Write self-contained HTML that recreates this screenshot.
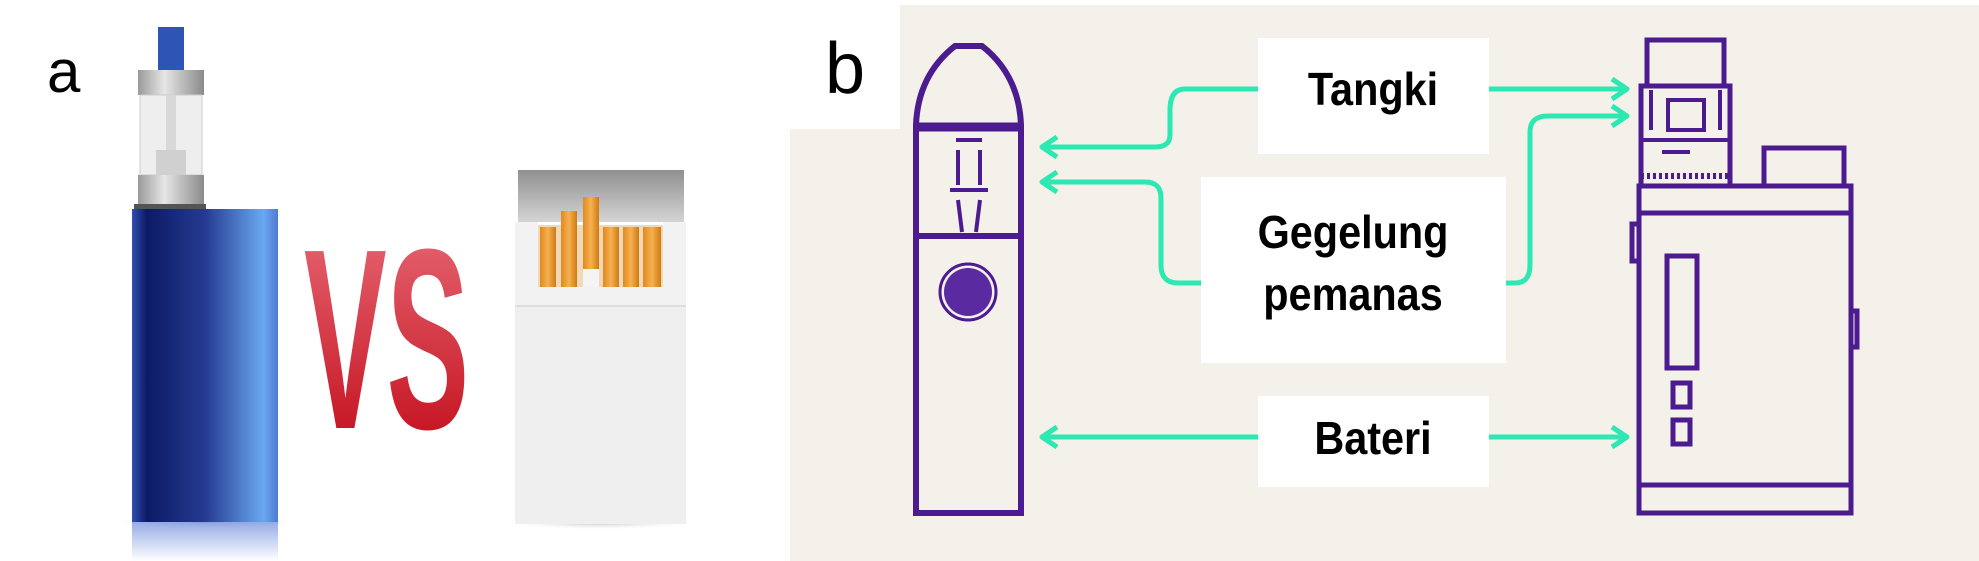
<!DOCTYPE html>
<html><head><meta charset="utf-8"><style>
html,body{margin:0;padding:0;background:#fff;}
svg{display:block}
text{font-family:"Liberation Sans",sans-serif}
</style></head><body>
<svg width="1979" height="561" viewBox="0 0 1979 561" xmlns="http://www.w3.org/2000/svg">
<defs>
<linearGradient id="blue" x1="0" x2="1"><stop offset="0" stop-color="#3050b0"/><stop offset="0.1" stop-color="#0c1a66"/><stop offset="0.5" stop-color="#253a90"/><stop offset="0.9" stop-color="#6aa8f0"/><stop offset="1" stop-color="#4e7ad0"/></linearGradient>
<linearGradient id="refl" x1="0" y1="0" x2="0" y2="1"><stop offset="0" stop-color="#7c98e0"/><stop offset="1" stop-color="#ffffff"/></linearGradient>
<linearGradient id="metal" x1="0" x2="1"><stop offset="0" stop-color="#9a9a9a"/><stop offset="0.4" stop-color="#e6e6e6"/><stop offset="1" stop-color="#8a8a8a"/></linearGradient>
<linearGradient id="red" x1="0" y1="0" x2="0" y2="1"><stop offset="0" stop-color="#e9707c"/><stop offset="1" stop-color="#c00412"/></linearGradient>
<linearGradient id="flap" x1="0" y1="0" x2="0" y2="1"><stop offset="0" stop-color="#909090"/><stop offset="1" stop-color="#d4d4d4"/></linearGradient>
<linearGradient id="cig" x1="0" x2="1"><stop offset="0" stop-color="#e08a20"/><stop offset="0.5" stop-color="#f6b050"/><stop offset="1" stop-color="#d07a10"/></linearGradient>
<radialGradient id="shad"><stop offset="0" stop-color="#888" stop-opacity="0.6"/><stop offset="1" stop-color="#fff" stop-opacity="0"/></radialGradient>
</defs>
<!-- panel a -->
<text x="47" y="92" font-size="60">a</text>
<ellipse cx="205" cy="522" rx="95" ry="8" fill="url(#shad)"/>
<rect x="158" y="27" width="26" height="43" fill="#2d55b5"/>
<rect x="138" y="70" width="66" height="25" fill="url(#metal)"/>
<rect x="140" y="95" width="62" height="80" fill="#eeeeee" stroke="#ccc"/>
<rect x="166" y="95" width="10" height="60" fill="#d8d8d8"/>
<rect x="156" y="150" width="30" height="25" fill="#d0d0d0"/>
<rect x="138" y="175" width="66" height="29" fill="url(#metal)"/>
<rect x="134" y="204" width="72" height="6" fill="#555"/>
<rect x="132" y="209" width="146" height="313" fill="url(#blue)"/>
<rect x="132" y="522" width="146" height="39" fill="url(#refl)" opacity="0.8"/>
<text x="0" y="0" font-size="238" font-weight="bold" fill="url(#red)" transform="translate(304,428) scale(0.52,1.08)">VS</text>
<ellipse cx="600" cy="522" rx="100" ry="8" fill="url(#shad)"/>
<rect x="518" y="170" width="166" height="52" fill="url(#flap)"/>
<rect x="538" y="225" width="125" height="62" fill="#f0d8b8"/>
<rect x="540" y="227" width="16" height="60" fill="url(#cig)"/>
<rect x="561" y="211" width="16" height="76" fill="url(#cig)"/>
<rect x="583" y="197" width="16" height="72" fill="url(#cig)"/>
<rect x="583" y="269" width="16" height="18" fill="#f4f4f4"/>
<rect x="603" y="227" width="16" height="60" fill="url(#cig)"/>
<rect x="623" y="227" width="16" height="60" fill="url(#cig)"/>
<rect x="643" y="227" width="18" height="60" fill="url(#cig)"/>
<path d="M515 222 L538 222 L538 287 L663 287 L663 222 L686 222 L686 306 L515 306 Z" fill="#f2f2f2"/>
<rect x="515" y="306" width="171" height="218" fill="#efefef"/>
<line x1="515" y1="306" x2="686" y2="306" stroke="#ccc"/>
<!-- panel b bg -->
<path d="M900 5 H1979 V561 H790 V129 H900 Z" fill="#f3f1ea"/>
<text x="825" y="93" font-size="72">b</text>
<!-- boxes -->
<rect x="1258" y="38" width="231" height="116" fill="#fff"/>
<rect x="1201" y="177" width="305" height="186" fill="#fff"/>
<rect x="1258" y="396" width="231" height="91" fill="#fff"/>
<g font-weight="bold" font-size="46" text-anchor="middle" fill="#000">
<text transform="translate(1373,105) scale(0.9,1)">Tangki</text>
<text transform="translate(1353,248) scale(0.9,1)">Gegelung</text>
<text transform="translate(1353,310) scale(0.9,1)">pemanas</text>
<text transform="translate(1373,454) scale(0.9,1)">Bateri</text>
</g>
<!-- arrows -->
<g fill="none" stroke="#2ee8b2" stroke-width="5" stroke-linejoin="round">
<path d="M1489 89 H1625"/><path d="M1612 79 L1627 89 L1612 99"/>
<path d="M1258 89 H1185 Q1170 89 1170 110 V135 Q1170 147 1155 147 H1044"/><path d="M1057 137 L1042 147 L1057 157"/>
<path d="M1201 283 H1178 Q1161 283 1161 265 V198 Q1161 182 1145 182 H1044"/><path d="M1057 172 L1042 182 L1057 192"/>
<path d="M1506 283 H1515 Q1530 283 1530 265 V132 Q1530 116 1548 116 H1625"/><path d="M1612 106 L1627 116 L1612 126"/>
<path d="M1258 437 H1044"/><path d="M1057 427 L1042 437 L1057 447"/>
<path d="M1489 437 H1625"/><path d="M1612 427 L1627 437 L1612 447"/>
</g>
<!-- left pen -->
<g fill="none" stroke="#4b1b8f" stroke-width="6">
<path d="M916 513 V125 Q918 75 955 46 L982 46 Q1019 75 1021 125 V513 Z"/>
<line x1="916" y1="127" x2="1021" y2="127" stroke-width="9"/>
<line x1="916" y1="236" x2="1021" y2="236"/>
<path d="M956 140 H982 M958 150 V185 M980 150 V185 M950 190 H988 M958 200 L962 232 M980 200 L976 232" stroke-width="4"/>
<circle cx="968" cy="292" r="28" stroke-width="3"/>
</g>
<circle cx="968" cy="292" r="24" fill="#5a2aa0"/>
<!-- right mod -->
<g fill="none" stroke="#4b1b8f" stroke-width="5">
<rect x="1647" y="40" width="77" height="46"/>
<rect x="1641" y="86" width="89" height="100"/>
<path d="M1651 90 V130 M1720 90 V130 M1668 100 H1704 V130 H1668 Z M1662 152 H1690" stroke-width="4"/>
<line x1="1641" y1="140" x2="1730" y2="140" stroke-width="4"/>
<line x1="1641" y1="176" x2="1730" y2="176" stroke-width="6" stroke-dasharray="3 3"/>
<rect x="1764" y="148" width="80" height="38"/>
<path d="M1639 513 V186 H1851 V513 Z"/>
<line x1="1639" y1="213" x2="1851" y2="213"/>
<line x1="1639" y1="485" x2="1851" y2="485"/>
<rect x="1632" y="224" width="7" height="37"/>
<rect x="1851" y="311" width="6" height="36"/>
<rect x="1667" y="256" width="30" height="112"/>
<rect x="1673" y="383" width="17" height="24"/>
<rect x="1673" y="420" width="17" height="24"/>
</g>
</svg>
</body></html>
